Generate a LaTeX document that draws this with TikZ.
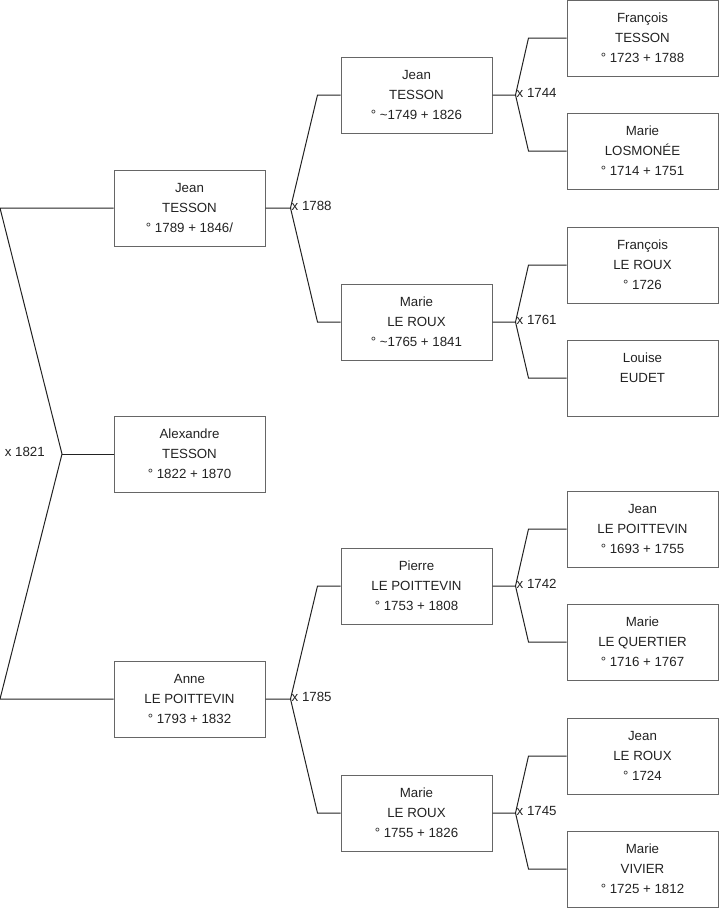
\documentclass[tikz,border=0pt]{standalone}
\usepackage{fontspec}
\setmainfont{Liberation Sans}
\usetikzlibrary{positioning}
\usepackage{xcolor}
\definecolor{BoxGray}{HTML}{666666}
\definecolor{LinkGray}{HTML}{222222}
\definecolor{Ink}{HTML}{222222}

\begin{document}
\begin{tikzpicture}[x=1pt,y=-1pt,font=\fontsize{13.3}{20}\selectfont,
    person/.style={draw=BoxGray,line width=1pt,minimum width=151pt,
      minimum height=76pt,align=center,inner sep=0pt,text=Ink},
    link/.style={draw=LinkGray,line width=1pt},
    wed/.style={right,inner sep=1pt,text=Ink,yshift=2pt}]
    \useasboundingbox (0,0) rectangle (719,908);
    % generation 1
    \node[person] (jean1) at (189.5,208) {Jean\\TESSON\\° 1789 + 1846/};
    \node[person] (alex)  at (189.5,454) {Alexandre\\TESSON\\° 1822 + 1870};
    \node[person] (anne)  at (189.5,699) {Anne\\LE POITTEVIN\\° 1793 + 1832};
    % generation 2
    \node[person] (jean2)   at (416.5,95)  {Jean\\TESSON\\° \textasciitilde1749 + 1826};
    \node[person] (marie1)  at (416.5,322) {Marie\\LE ROUX\\° \textasciitilde1765 + 1841};
    \node[person] (pierre)  at (416.5,586) {Pierre\\LE POITTEVIN\\° 1753 + 1808};
    \node[person] (marie2)  at (416.5,813) {Marie\\LE ROUX\\° 1755 + 1826};
    % generation 3
    \node[person] (franc1)  at (642.5,38)  {François\\TESSON\\° 1723 + 1788};
    \node[person] (marie3)  at (642.5,151) {Marie\\LOSMONÉE\\° 1714 + 1751};
    \node[person] (franc2)  at (642.5,265) {François\\LE ROUX\\° 1726};
    \node[person] (louise)  at (642.5,378) {Louise\\EUDET\\\mbox{}};
    \node[person] (jean3)   at (642.5,529) {Jean\\LE POITTEVIN\\° 1693 + 1755};
    \node[person] (marie4)  at (642.5,642) {Marie\\LE QUERTIER\\° 1716 + 1767};
    \node[person] (jean4)   at (642.5,756) {Jean\\LE ROUX\\° 1724};
    \node[person] (marie5)  at (642.5,869) {Marie\\VIVIER\\° 1725 + 1812};

    % parents of Alexandre
    \coordinate (fa) at (0,208);
    \coordinate (mo) at (0,699);
    \coordinate (j1821) at (62,454);
    \draw[link] (jean1.west) -- (fa) -- (j1821) -- (mo) -- (anne.west);
    \draw[link] (j1821) -- (alex.west);
    \node[text=Ink,left,inner sep=1pt] (w1821) at (46,452) {x 1821};

    % other couples
    \foreach \kid/\dad/\mum/\yr/\out/\gap in {
        jean1/jean2/marie1/1788/25/23,
        anne/pierre/marie2/1785/25/23,
        jean2/franc1/marie3/1744/23/38,
        marie1/franc2/louise/1761/23/38,
        pierre/jean3/marie4/1742/23/38,
        marie2/jean4/marie5/1745/23/38}{
      \coordinate (j\yr) at ([xshift=\out pt]\kid.east);
      \draw[link] (\kid.east) -- (j\yr) -- ([xshift=-\gap pt]\dad.west) -- (\dad.west);
      \draw[link] (j\yr) -- ([xshift=-\gap pt]\mum.west) -- (\mum.west);
      \node[wed] (w\yr) at (j\yr) {x \yr};
    }
\end{tikzpicture}
\end{document}
